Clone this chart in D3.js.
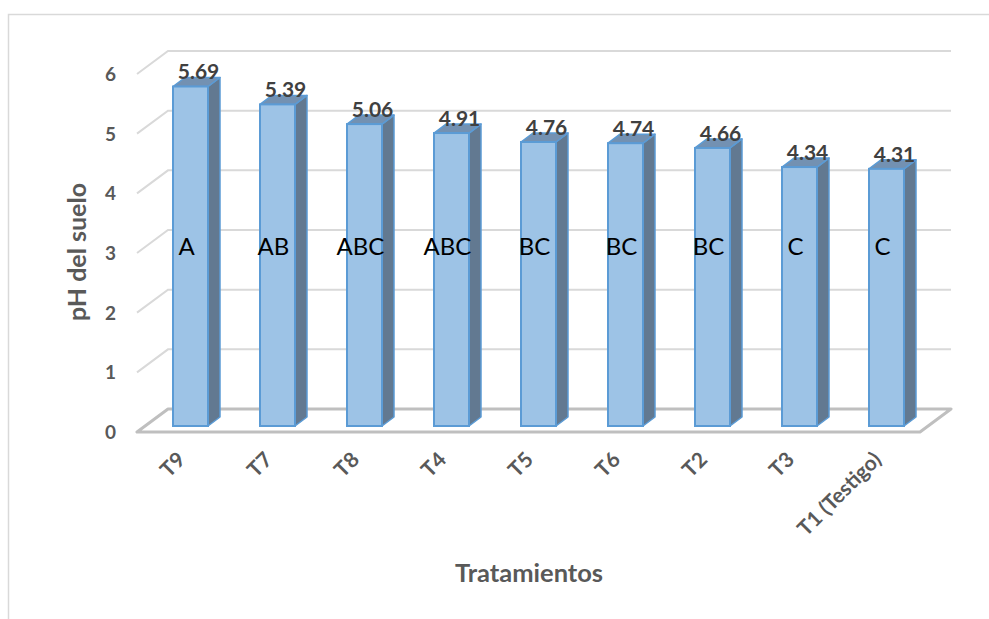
<!DOCTYPE html>
<html>
<head>
<meta charset="utf-8">
<script src="https://cdn.jsdelivr.net/npm/d3@7"></script>
<style>
  body { margin: 0; background: #fff; }
  text { font-family: Lato, "Open Sans", sans-serif; }
</style>
</head>
<body>
<div id="chart"></div>
<script>
// data
var tratamientos = ["T9", "T7", "T8", "T4", "T5", "T6", "T2", "T3", "T1 (Testigo)"];
var phValues = [5.69, 5.39, 5.06, 4.91, 4.76, 4.74, 4.66, 4.34, 4.31];
var letras = ["A", "AB", "ABC", "ABC", "BC", "BC", "BC", "C", "C"];
var yTicks = [0, 1, 2, 3, 4, 5, 6];

var W = 989, H = 619;
var svg = d3.select("#chart").append("svg")
    .attr("width", W)
    .attr("height", H);

// outer frame (only top and left are visible in the crop)
svg.append("path")
    .attr("d", "M8.5," + H + " V14.5 H" + W)
    .attr("fill", "none")
    .attr("stroke", "#d9d9d9")
    .attr("stroke-width", 1.5);

// front plane of the floor
var x = d3.scaleBand().domain(tratamientos).range([137, 920]);
var y = d3.scaleLinear().domain([0, 6]).range([432, 74]);
var depth = {dx: 31, dy: -23};      // floor / wall depth
var barOff = {dx: 10, dy: -6};      // bar position inside the depth
var barD = {dx: 12, dy: -9};        // bar own depth
var barW = 35;

// gridlines: left wall diagonal + back wall
var grid = svg.append("g");
yTicks.forEach(function(t) {
  if (t === 0) return;
  grid.append("path")
      .attr("d", "M" + x.range()[0] + "," + y(t) +
                 " L" + (x.range()[0] + depth.dx) + "," + (y(t) + depth.dy) +
                 " H" + (x.range()[1] + depth.dx))
      .attr("fill", "none")
      .attr("stroke", "#d9d9d9")
      .attr("stroke-width", 2);
});

// floor
var x0 = x.range()[0], x1 = x.range()[1], yf = y(0);
svg.append("path")
    .attr("d", "M" + x0 + "," + yf + " H" + x1 +
               " L" + (x1 + depth.dx) + "," + (yf + depth.dy) +
               " H" + (x0 + depth.dx) + " Z")
    .attr("fill", "none")
    .attr("stroke", "#bfbfbf")
    .attr("stroke-width", 3)
    .attr("stroke-linejoin", "round");

// y tick labels
svg.append("g").selectAll("text")
    .data(yTicks)
  .enter().append("text")
    .attr("x", 116)
    .attr("y", function(d) { return y(d); })
    .attr("dy", "0.36em")
    .attr("text-anchor", "end")
    .attr("font-size", 19)
    .attr("font-weight", "bold")
    .attr("fill", "#595959")
    .text(function(d) { return d; });

// bars
var bars = svg.append("g").selectAll("g.bar")
    .data(tratamientos.map(function(t, i) { return {name: t, v: phValues[i], letra: letras[i]}; }))
  .enter().append("g")
    .attr("class", "bar");

function barLeft(d) { return x(d.name) + (x.bandwidth() - barW) / 2 + barOff.dx; }
function barTop(d) { return y(d.v) + barOff.dy; }
var barBottom = y(0) + barOff.dy;

// side face
bars.append("path")
    .attr("d", function(d) {
      var r = barLeft(d) + barW;
      return "M" + r + "," + barTop(d) +
             " L" + (r + barD.dx) + "," + (barTop(d) + barD.dy) +
             " V" + (barBottom + barD.dy) +
             " L" + r + "," + barBottom + " Z";
    })
    .attr("fill", "#627991")
    .attr("stroke", "#5b9bd5")
    .attr("stroke-width", 1.5)
    .attr("stroke-linejoin", "round");

// top face
bars.append("path")
    .attr("d", function(d) {
      var l = barLeft(d), t = barTop(d);
      return "M" + l + "," + t +
             " L" + (l + barD.dx) + "," + (t + barD.dy) +
             " H" + (l + barW + barD.dx) +
             " L" + (l + barW) + "," + t + " Z";
    })
    .attr("fill", "#7391b2")
    .attr("stroke", "#5b9bd5")
    .attr("stroke-width", 1.5)
    .attr("stroke-linejoin", "round");

// front face
bars.append("rect")
    .attr("x", barLeft)
    .attr("y", barTop)
    .attr("width", barW)
    .attr("height", function(d) { return barBottom - barTop(d); })
    .attr("fill", "#9dc3e6")
    .attr("stroke", "#5b9bd5")
    .attr("stroke-width", 2);

// value labels
bars.append("text")
    .attr("x", function(d) { return barLeft(d) + barW / 2 + 8; })
    .attr("y", function(d) { return barTop(d) - 7; })
    .attr("text-anchor", "middle")
    .attr("font-size", 21)
    .attr("font-weight", "bold")
    .attr("fill", "#404040")
    .text(function(d) { return d.v.toFixed(2); });

// significance letters
bars.append("text")
    .attr("x", function(d) { return barLeft(d) + barW / 2 - 4; })
    .attr("y", 255)
    .attr("text-anchor", "middle")
    .attr("font-size", 24)
    .attr("fill", "#000")
    .text(function(d) { return d.letra; });

// x tick labels
svg.append("g").selectAll("text")
    .data(tratamientos)
  .enter().append("text")
    .attr("transform", function(d) {
      return "translate(" + (x(d) + x.bandwidth() / 2 + 6) + ",461) rotate(-45)";
    })
    .attr("text-anchor", "end")
    .attr("font-size", 21)
    .attr("font-weight", "bold")
    .attr("fill", "#595959")
    .text(function(d) { return d; });

// axis titles
svg.append("text")
    .attr("x", 529)
    .attr("y", 582)
    .attr("text-anchor", "middle")
    .attr("font-size", 25.5)
    .attr("font-weight", "bold")
    .attr("fill", "#595959")
    .text("Tratamientos");

svg.append("text")
    .attr("transform", "translate(86,252) rotate(-90)")
    .attr("text-anchor", "middle")
    .attr("font-size", 25)
    .attr("font-weight", "bold")
    .attr("fill", "#595959")
    .text("pH del suelo");
</script>
</body>
</html>
